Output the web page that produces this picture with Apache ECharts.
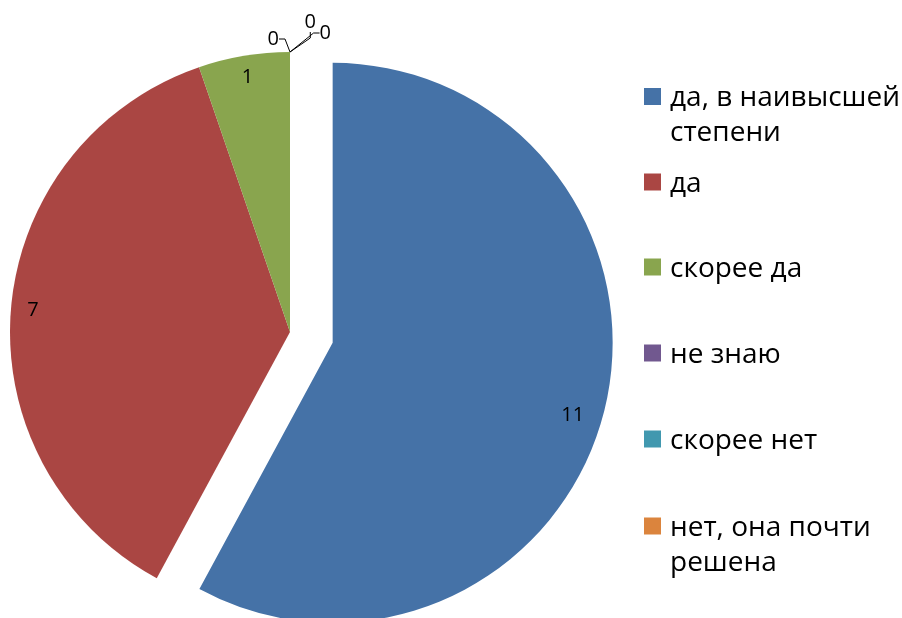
<!DOCTYPE html>
<html><head><meta charset="utf-8">
<script src="https://cdn.jsdelivr.net/npm/echarts@6/dist/echarts.min.js"></script>
<style>html,body{margin:0;padding:0;background:#fff}#c{width:902px;height:618px}</style>
</head><body><div id="c"></div>
<script>
const categories = ['да, в наивысшей степени', 'да', 'скорее да', 'не знаю', 'скорее нет', 'нет, она почти решена'];
const values = [11, 7, 1, 0, 0, 0];
const legendLabels = ['да, в наивысшей\nстепени', 'да', 'скорее да', 'не знаю', 'скорее нет', 'нет, она почти\nрешена'];
const colors = ['#4572A7', '#AA4643', '#89A54E', '#71588F', '#4198AF', '#DB843D'];

const FONT = '"Open Sans", sans-serif';
const LH = 35;
const legendCenters = [98.5, 184, 269, 355, 441, 528];
// small nudges (px) relative to the library's own label placement
const labelNudges = {
  '0-3': {dx: -3, dy: -4},
  '0-4': {dx: 34, dy: -21},
  '0-5': {dx: 49, dy: -10}
};
const innerNudges = {
  '1-0': {dx: -10, dy: 9}
};
const nudge = p => {
  const key = p.seriesIndex + '-' + p.dataIndex;
  if (innerNudges[key]) return innerNudges[key];
  const n = labelNudges[key];
  if (!n) return {};
  const r = p.labelRect;
  return {
    x: r.x + r.width / 2 + n.dx,
    y: r.y + r.height / 2 + n.dy,
    align: 'center',
    verticalAlign: 'middle'
  };
};

const chart = echarts.init(document.getElementById('c'), null, {renderer: 'canvas'});

const legends = categories.map((name, i) => {
  const two = legendLabels[i].indexOf('\n') >= 0;
  return {
    show: true,
    data: [name],
    left: 644,
    top: legendCenters[i] - (two ? 1.5 * LH : 0.5 * LH) - 2,
    orient: 'vertical',
    padding: 0,
    itemWidth: 17,
    itemHeight: 17,
    itemGap: 0,
    selectedMode: false,
    icon: 'rect',
    formatter: n => {
      const lines = legendLabels[categories.indexOf(n)].split('\n').map(s => '{t|' + s + '}');
      return (lines.length > 1 ? '{t|}\n' : '') + lines.join('\n');
    },
    textStyle: {
      fontFamily: FONT, fontSize: 28, lineHeight: LH, color: '#000',
      rich: {t: {fontFamily: FONT, fontSize: 28, lineHeight: LH, color: '#000', padding: [4, 0, 0, 4]}}
    }
  };
});

const mainData = categories.map((name, i) => ({
  name: name,
  value: values[i],
  selected: i === 0,
  itemStyle: {color: colors[i]},
  label: {show: values[i] === 0},
  labelLine: {show: values[i] === 0}
}));

const labelData = categories.map((name, i) => ({
  name: name,
  value: values[i],
  selected: i === 0,
  itemStyle: {color: 'rgba(0,0,0,0)'},
  label: {show: values[i] > 0}
}));

chart.setOption({
  animation: false,
  legend: legends,
  series: [
    {
      type: 'pie',
      center: [290, 332],
      radius: [0, 280],
      startAngle: 90,
      clockwise: true,
      selectedMode: 'single',
      selectedOffset: 44,
      avoidLabelOverlap: false,
      itemStyle: {borderWidth: 0},
      emphasis: {disabled: true},
      label: {position: 'outside', formatter: '{c}', fontFamily: FONT, fontSize: 20, color: '#000', distanceToLabelLine: 2},
      labelLine: {length: 9, length2: 6, lineStyle: {color: '#000', width: 1}},
      labelLayout: nudge,
      data: mainData
    },
    {
      type: 'pie',
      center: [290, 332],
      radius: [230, 280],
      startAngle: 90,
      clockwise: true,
      selectedMode: 'single',
      selectedOffset: 44,
      silent: true,
      legendHoverLink: false,
      emphasis: {disabled: true},
      label: {position: 'inside', formatter: '{c}', fontFamily: FONT, fontSize: 20, color: '#000'},
      labelLine: {show: false},
      labelLayout: nudge,
      data: labelData
    }
  ]
});
</script>
</body></html>
